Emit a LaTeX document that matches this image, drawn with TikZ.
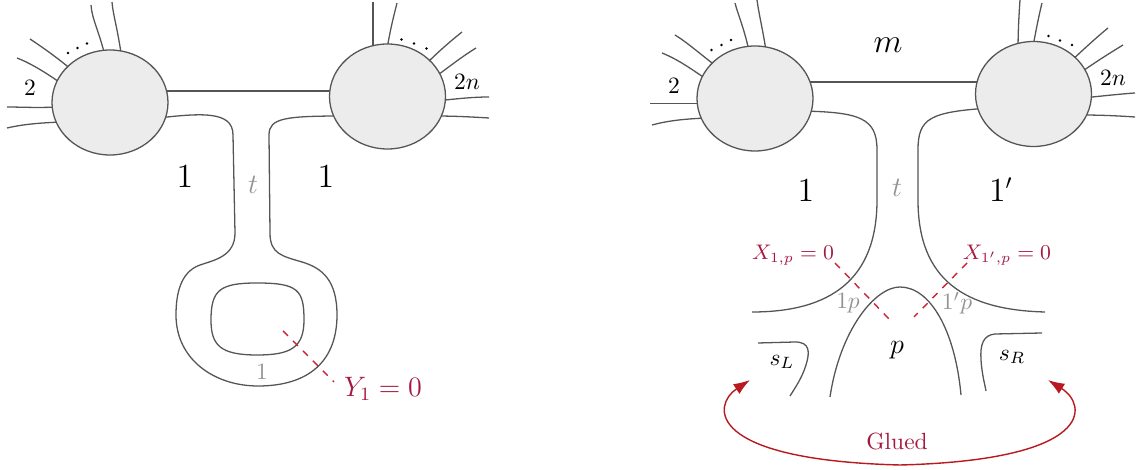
\documentclass[tikz,border=0pt]{standalone}
\usetikzlibrary{arrows.meta}
\definecolor{lineg}{RGB}{85,85,85}
\definecolor{blobfill}{RGB}{236,236,236}
\definecolor{cutred}{RGB}{205,35,55}
\definecolor{labred}{RGB}{165,25,65}
\definecolor{gluered}{RGB}{185,25,30}
\begin{document}
\begin{tikzpicture}[x=0.015cm,y=-0.015cm,
    strand/.style={lineg, line width=0.55pt},
    blob/.style={draw=lineg, fill=blobfill, line width=0.55pt},
    cut/.style={cutred, dashed, line width=0.6pt},
    faint/.style={gray!85},
    redlab/.style={labred},
    biglab/.style={font=\fontsize{13.5}{16}\selectfont},
    dotty/.style={fill=black}]
    \useasboundingbox (0,0) rectangle (1141,470);

    % ---------------- left picture ----------------
    % legs of the left blob
    \draw[strand] (106,60) .. controls (99,30) and (92,20) .. (91,5);
    \draw[strand] (122,60) .. controls (118,30) and (113,15) .. (112,2);
    \draw[strand] (72,70) .. controls (55,56) and (42,47) .. (30,39);
    \draw[strand] (62,84) .. controls (45,72) and (30,63) .. (17,58);
    \draw[strand] (60,107) .. controls (35,108) and (20,107) .. (7,107);
    \draw[strand] (62,122) .. controls (35,123) and (20,125) .. (7,128);
    % legs of the right blob
    \draw[strand] (373,55) .. controls (373,30) and (373,15) .. (373,2);
    \draw[strand] (386,55) .. controls (390,30) and (394,15) .. (397,3);
    \draw[strand] (424,66) .. controls (440,50) and (452,40) .. (462,32);
    \draw[strand] (434,78) .. controls (450,66) and (463,56) .. (476,48);
    \draw[strand] (436,101) .. controls (455,99) and (472,97) .. (489,97);
    \draw[strand] (434,116) .. controls (455,116) and (472,117) .. (489,118);
    % propagator between the blobs
    \draw[strand] (150,91) -- (350,91);
    % the handle and its hole
    \draw[strand] (150,119) .. controls (200,113) and (233,110) .. (233,135)
        -- (235,233)
        .. controls (235,256) and (215,260) .. (200,265)
        .. controls (180,272) and (176,295) .. (176,315)
        .. controls (176,360) and (215,386) .. (258,386)
        .. controls (310,386) and (337,360) .. (337,315)
        .. controls (337,280) and (322,268) .. (302,262)
        .. controls (282,256) and (270,254) .. (270,233)
        -- (269,135)
        .. controls (269,118) and (285,116) .. (345,116);
    \draw[strand] (257,283) .. controls (298,283) and (304,290) .. (304,320)
        .. controls (304,348) and (290,355) .. (257,355)
        .. controls (220,355) and (211,345) .. (211,320)
        .. controls (211,290) and (220,283) .. cycle;
    % blobs
    \path[blob] (110,102.5) ellipse [x radius=0.87cm, y radius=0.7875cm];
    \path[blob] (387.5,96.5) ellipse [x radius=0.87cm, y radius=0.7875cm];
    % cut
    \draw[cut] (283,331) -- (334,382);
    % dots between the legs
    \foreach \px/\py in {68/53, 77.5/48, 87/43.5, 401.5/39.5, 414/43.5, 426.5/48.5}
        \fill[dotty] (\px,\py) circle [radius=0.55pt];
    % labels
    \node (twoA) at (30,88) {$2$};
    \node (twonA) at (467,82) {$2n$};
    \node[biglab] (oneLA) at (185,177) {$1$};
    \node[biglab] (oneRA) at (326,177) {$1$};
    \node[faint, font=\large] (tA) at (253,185) {$t$};
    \node[faint] (loopA) at (262,372) {$1$};
    \node[redlab, font=\large] (cutA) at (383,389) {$Y_1=0$};

    % ---------------- right picture ----------------
    % legs of the left blob
    \draw[strand] (750,56) .. controls (745,30) and (738,15) .. (735,3);
    \draw[strand] (767,57) .. controls (763,30) and (759,15) .. (757,0);
    \draw[strand] (716,66) .. controls (700,54) and (688,43) .. (675,35);
    \draw[strand] (706,79) .. controls (690,68) and (677,59) .. (662,53);
    \draw[strand] (705,103.5) .. controls (680,103.5) and (665,103.5) .. (650,103.5);
    \draw[strand] (707,118) .. controls (682,119) and (667,121) .. (652,125);
    % legs of the right blob
    \draw[strand] (1018,53) .. controls (1018,30) and (1019,15) .. (1020,0);
    \draw[strand] (1032,52) .. controls (1036,30) and (1039,15) .. (1042,3);
    \draw[strand] (1070,62) .. controls (1085,48) and (1097,37) .. (1108,28);
    \draw[strand] (1080,73) .. controls (1097,61) and (1110,53) .. (1123,45);
    \draw[strand] (1082,98) .. controls (1103,96) and (1120,94) .. (1135,93);
    \draw[strand] (1080,115) .. controls (1103,115) and (1120,116) .. (1135,117);
    % propagator between the blobs
    \draw[strand] (795,82) -- (995,82);
    % strands going down
    \draw[strand] (800,111) .. controls (860,112) and (877,118) .. (877,150)
        -- (877,200) .. controls (877,280) and (830,312) .. (752,312);
    \draw[strand] (990,108) .. controls (930,112) and (918,118) .. (918,150)
        -- (918,200) .. controls (918,280) and (965,310) .. (1045,312);
    \draw[strand] (830,397) .. controls (840,330) and (875,287) .. (900,287)
        .. controls (930,287) and (955,330) .. (961,395);
    \draw[strand] (758,343) -- (795,342) .. controls (810,342) and (810,352) .. (806,365)
        .. controls (802,378) and (795,388) .. (790,396);
    \draw[strand] (1042,333) -- (995,334) .. controls (983,335) and (980,345) .. (981,360)
        .. controls (982,375) and (985,385) .. (986,391);
    % blobs
    \path[blob] (755,98.5) ellipse [x radius=0.87cm, y radius=0.7875cm];
    \path[blob] (1033.5,94) ellipse [x radius=0.87cm, y radius=0.7875cm];
    % cuts
    \draw[cut] (835,263) -- (891,321);
    \draw[cut] (967,263) -- (914,317);
    % gluing
    \coordinate (glueL) at (750,380);
    \coordinate (glueR) at (1048,380);
    \draw[gluered, line width=0.6pt, {Latex[length=7pt,width=5pt]}-{Latex[length=7pt,width=5pt]}]
        (glueL) .. controls (712,405) and (705,460) .. (900,465)
        .. controls (1095,460) and (1088,405) .. (glueR);
    % dots between the legs
    \foreach \px/\py in {711.5/50, 721.5/45, 731/40, 1048.5/36, 1060/40.5, 1072/45}
        \fill[dotty] (\px,\py) circle [radius=0.55pt];
    % labels
    \node (twoB) at (674,86) {$2$};
    \node (twonB) at (1113,78) {$2n$};
    \node[font=\Large] (mB) at (888,45) {$m$};
    \node[biglab] (oneLB) at (806,191) {$1$};
    \node[biglab] (oneRB) at (1001,190) {$1'$};
    \node[faint, font=\large] (tB) at (897,188) {$t$};
    \node[redlab, font=\small] (cutLB) at (793,255) {$X_{1,p}=0$};
    \node[redlab, font=\small] (cutRB) at (1007,255) {$X_{1',p}=0$};
    \node[faint] (onepB) at (848,303) {$1p$};
    \node[faint] (onepRB) at (957,303) {$1'p$};
    \node[font=\large] (pB) at (897,350) {$p$};
    \node (sLB) at (782,362) {$s_L$};
    \node (sRB) at (1012,357) {$s_R$};
    \node[redlab] (glued) at (897,442) {Glued};
\end{tikzpicture}
\end{document}
